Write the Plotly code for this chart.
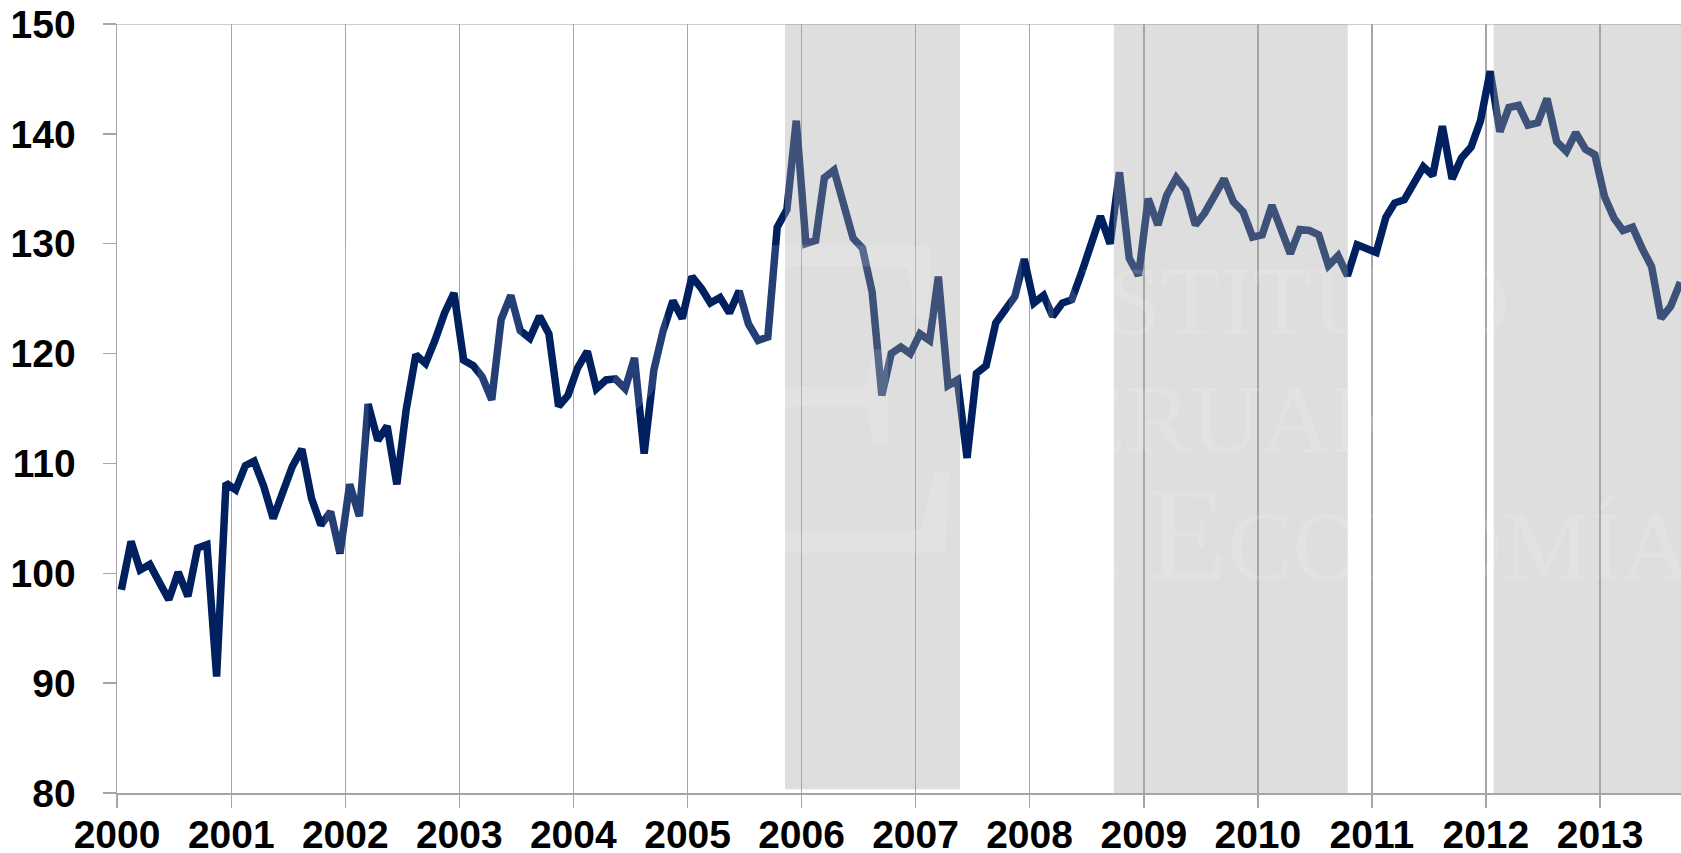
import pandas as pd
import plotly.graph_objects as go

# ---- data (monthly index) ----
years = list(range(2000, 2014))
v2000 = [98.5, 102.9, 100.3, 100.8, 99.2, 97.6, 100.1, 97.9, 102.3, 102.6, 90.6, 108.2]
v2001 = [107.6, 109.8, 110.2, 107.9, 105.0, 107.6, 109.7, 111.3, 106.8, 104.4, 105.6, 101.8]
v2002 = [108.1, 105.2, 115.4, 112.1, 113.4, 108.1, 114.9, 119.9, 119.1, 121.2, 123.7, 125.5]
v2003 = [119.4, 118.9, 117.9, 115.8, 123.1, 125.3, 122.1, 121.4, 123.4, 121.8, 115.2, 116.2]
v2004 = [118.7, 120.2, 116.8, 117.6, 117.7, 116.8, 119.6, 110.9, 118.5, 122.1, 124.8, 123.2]
v2005 = [127.0, 125.9, 124.6, 125.1, 123.7, 125.7, 122.7, 121.2, 121.5, 131.5, 133.1, 141.2]
v2006 = [130.0, 130.3, 136.0, 136.7, 133.7, 130.5, 129.6, 125.6, 116.2, 120.0, 120.6, 120.0]
v2007 = [121.8, 121.2, 127.0, 117.1, 117.6, 110.5, 118.2, 118.9, 122.8, 124.0, 125.2, 128.6]
v2008 = [124.6, 125.3, 123.4, 124.6, 124.9, 127.3, 130.0, 132.5, 130.0, 136.5, 128.7, 127.1]
v2009 = [134.1, 131.7, 134.4, 136.0, 134.9, 131.7, 132.8, 134.4, 135.9, 133.8, 132.9, 130.6]
v2010 = [130.8, 133.5, 131.2, 129.1, 131.3, 131.2, 130.8, 128.0, 128.9, 127.1, 129.9, 129.6]
v2011 = [129.2, 132.4, 133.7, 134.0, 135.6, 137.0, 136.2, 140.7, 135.9, 137.8, 138.8, 141.2]
v2012 = [145.7, 140.2, 142.4, 142.6, 140.8, 141.0, 143.2, 139.3, 138.4, 140.1, 138.6, 138.1]
v2013 = [134.3, 132.3, 131.2, 131.5, 129.6, 127.9, 123.2, 124.3, 126.5]

values = (v2000 + v2001 + v2002 + v2003 + v2004 + v2005 + v2006 + v2007
          + v2008 + v2009 + v2010 + v2011 + v2012 + v2013)
dates = [d.strftime("%Y-%m-%d") for d in
         pd.date_range("2000-01-01", periods=len(values), freq="MS") + pd.Timedelta(days=14)]

# shaded periods
shade_starts = ["2005-11-09", "2008-09-27", "2012-01-26"]
shade_ends = ["2007-05-23", "2010-10-16", "2013-12-31"]
shade_bottoms = [80.35, 80.0, 80.0]

tick_vals = [f"{y}-01-01" for y in years]
tick_text = [str(y) for y in years]
y_ticks = [80, 90, 100, 110, 120, 130, 140, 150]

NAVY = "#00205F"
GRID = "#A6A6A6"
FONT = "Liberation Sans, Arial, sans-serif"

fig = go.Figure()
fig.add_trace(go.Scatter(
    x=dates, y=values, mode="lines",
    line=dict(color=NAVY, width=7.5),
    hoverinfo="skip", showlegend=False,
))

shapes = []
for s, e, b in zip(shade_starts, shade_ends, shade_bottoms):
    shapes.append(dict(type="rect", xref="x", yref="y", x0=s, x1=e, y0=b, y1=150,
                       fillcolor="rgba(165,165,165,0.37)", line=dict(width=0), layer="above"))
# top border line at 150
shapes.append(dict(type="line", xref="paper", yref="y", x0=0, x1=1, y0=150, y1=150,
                   line=dict(color="#BFBFBF", width=1.5), layer="below"))

# faint watermark
wm = "rgba(255,255,255,0.14)"
serif = "Liberation Serif, Times New Roman, serif"
wx = "2007-09-01"
annotations = [
    dict(x="2004-06-01", y=92.4, xref="x", yref="y", text="IPE", showarrow=False,
         xanchor="center", yanchor="bottom", font=dict(family=serif, size=470, color=wm)),
    dict(x=wx, y=119.0, xref="x", yref="y", showarrow=False, xanchor="left", yanchor="bottom",
         text="I<span style='font-size:97px'>NSTITUTO</span>", font=dict(family=serif, size=133, color=wm)),
    dict(x=wx, y=108.2, xref="x", yref="y", showarrow=False, xanchor="left", yanchor="bottom",
         text="P<span style='font-size:97px'>ERUANO</span>", font=dict(family=serif, size=133, color=wm)),
    dict(x=wx, y=96.7, xref="x", yref="y", showarrow=False, xanchor="left", yanchor="bottom",
         text="<span style='font-size:97px'>DE </span>E<span style='font-size:97px'>CONOMÍA</span>",
         font=dict(family=serif, size=133, color=wm)),
]

fig.update_layout(
    width=1681, height=853,
    margin=dict(l=117, r=0, t=24, b=60),
    paper_bgcolor="white", plot_bgcolor="white",
    shapes=shapes, annotations=annotations,
    showlegend=False,
)
fig.update_xaxes(
    type="date", range=["2000-01-01", "2013-09-17"], automargin=False,
    tickmode="array", tickvals=tick_vals, ticktext=tick_text,
    showgrid=True, gridcolor=GRID, gridwidth=1.5,
    ticks="outside", ticklen=13, tickcolor=GRID, tickwidth=1.5,
    showline=True, linecolor=GRID, linewidth=1.5,
    tickfont=dict(family=FONT, size=39, color="black", weight="bold"),
    ticklabelstandoff=-6, ticklabeloverflow="allow", zeroline=False,
)
fig.update_yaxes(
    range=[80, 150], tickmode="array", tickvals=y_ticks, automargin=False,
    showgrid=False, ticks="outside", ticklen=13, tickcolor=GRID, tickwidth=1.5,
    showline=True, linecolor=GRID, linewidth=1.5,
    tickfont=dict(family=FONT, size=39, color="black", weight="bold"),
    ticklabelstandoff=19, ticklabeloverflow="allow", zeroline=False,
)

fig.write_html(
    "out.html",
    config={"displayModeBar": False, "staticPlot": True},
    post_script="document.body.style.margin='0px';document.body.style.overflow='hidden';",
)
